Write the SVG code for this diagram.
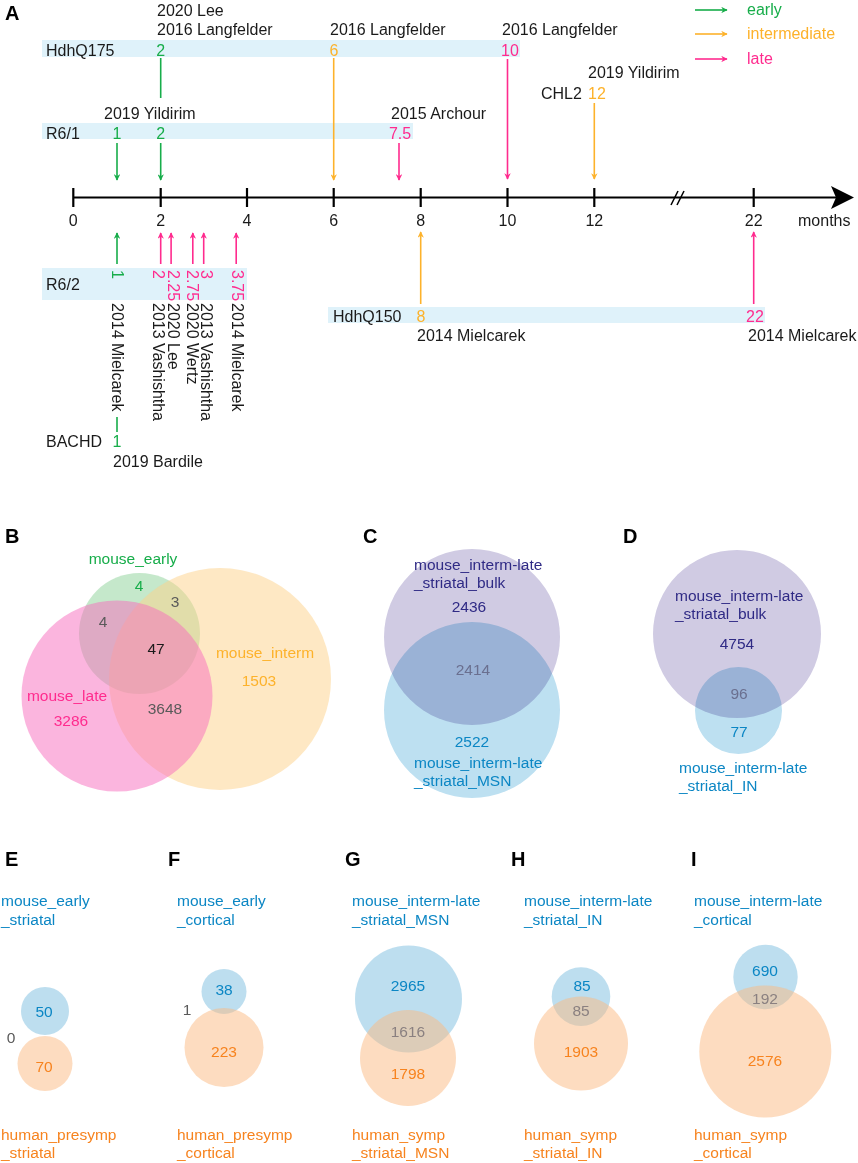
<svg xmlns="http://www.w3.org/2000/svg" width="858" height="1163" viewBox="0 0 858 1163">
<defs>
<style>
text{font-family:"Liberation Sans",Arial,Helvetica,sans-serif;font-size:16px;fill:#1a1a1a}
.L{font-weight:bold;font-size:20px;fill:#000}
.v{font-size:15.5px}
.m{text-anchor:middle}
.g{fill:#17ad4a}.o{fill:#fdb22b}.p{fill:#ff2b8e}
.gr{fill:#5a5a5a}
.pu{fill:#2f2a85}.bl{fill:#0b86c4}.or{fill:#f7831e}.ov{fill:#8a8080}.ovb{fill:#6a6f8f}
.band{fill:#dff2fa}
.ln{stroke-width:1.6;fill:none}
.sg{stroke:#17ad4a}.so{stroke:#fdb22b}.sp{stroke:#ff2b8e}
.ax{stroke:#000;stroke-width:2.2;fill:none}
.cg{fill:#8bd197;fill-opacity:.5}.cp{fill:#f86cbd;fill-opacity:.5}.co{fill:#fdd28a;fill-opacity:.5}
.cpu{fill:#d0cbe3;mix-blend-mode:multiply}.cbu{fill:#bde0f1;mix-blend-mode:multiply}
.cb{fill:#7bbde0;fill-opacity:.5}.cor{fill:#fbb982;fill-opacity:.5}
</style>
<marker id="ag" viewBox="0 0 10 10" refX="9" refY="5" markerWidth="4" markerHeight="4" orient="auto"><path d="M0,0 L10,5 L0,10 L3,5 z" fill="#17ad4a"/></marker>
<marker id="ao" viewBox="0 0 10 10" refX="9" refY="5" markerWidth="4" markerHeight="4" orient="auto"><path d="M0,0 L10,5 L0,10 L3,5 z" fill="#fdb22b"/></marker>
<marker id="ap" viewBox="0 0 10 10" refX="9" refY="5" markerWidth="4" markerHeight="4" orient="auto"><path d="M0,0 L10,5 L0,10 L3,5 z" fill="#ff2b8e"/></marker>
</defs>
<rect width="858" height="1163" fill="#fff"/>

<g id="panel-labels">
<text class="L" x="5" y="20">A</text>
<text class="L" x="5" y="543">B</text>
<text class="L" x="363" y="543">C</text>
<text class="L" x="623" y="543">D</text>
<text class="L" x="5" y="866">E</text>
<text class="L" x="168" y="866">F</text>
<text class="L" x="345" y="866">G</text>
<text class="L" x="511" y="866">H</text>
<text class="L" x="691" y="866">I</text>
</g>

<g id="legend">
<line class="ln sg" x1="695" y1="10" x2="727" y2="10" marker-end="url(#ag)"/>
<line class="ln so" x1="695" y1="34" x2="727" y2="34" marker-end="url(#ao)"/>
<line class="ln sp" x1="695" y1="59" x2="727" y2="59" marker-end="url(#ap)"/>
<text class="g" x="747" y="15">early</text>
<text class="o" x="747" y="39">intermediate</text>
<text class="p" x="747" y="64">late</text>
</g>

<g id="axis">
<line class="ax" x1="73.3" y1="197.5" x2="836" y2="197.5"/>
<polygon points="831,186 854,197.5 831,209 836,197.5" fill="#000"/>
<g class="ax" stroke-width="2">
<line x1="73.3" y1="188" x2="73.3" y2="207"/>
<line x1="160.7" y1="188" x2="160.7" y2="207"/>
<line x1="247" y1="188" x2="247" y2="207"/>
<line x1="333.7" y1="188" x2="333.7" y2="207"/>
<line x1="420.7" y1="188" x2="420.7" y2="207"/>
<line x1="507.5" y1="188" x2="507.5" y2="207"/>
<line x1="594.3" y1="188" x2="594.3" y2="207"/>
<line x1="753.7" y1="188" x2="753.7" y2="207"/>
</g>
<g stroke="#000" stroke-width="1.6">
<line x1="671" y1="205" x2="678" y2="191"/>
<line x1="677" y1="205" x2="684" y2="191"/>
</g>
<text class="m" x="73.3" y="226">0</text>
<text class="m" x="160.7" y="226">2</text>
<text class="m" x="247" y="226">4</text>
<text class="m" x="333.7" y="226">6</text>
<text class="m" x="420.7" y="226">8</text>
<text class="m" x="507.5" y="226">10</text>
<text class="m" x="594.3" y="226">12</text>
<text class="m" x="753.7" y="226">22</text>
<text x="798" y="226">months</text>
</g>

<g id="HdhQ175">
<rect class="band" x="42" y="40" width="478" height="17"/>
<text x="46" y="55.5">HdhQ175</text>
<text class="g m" x="160.7" y="55.5">2</text>
<text class="o m" x="334" y="55.5">6</text>
<text class="p m" x="510" y="55.5">10</text>
<text x="157" y="15.5">2020 Lee</text>
<text x="157" y="34.5">2016 Langfelder</text>
<text x="330" y="34.5">2016 Langfelder</text>
<text x="502" y="34.5">2016 Langfelder</text>
</g>

<g id="R6-1">
<rect class="band" x="42" y="123" width="371" height="16"/>
<text x="46" y="138.5">R6/1</text>
<text class="g m" x="117" y="138.5">1</text>
<text class="g m" x="160.7" y="138.5">2</text>
<text class="p m" x="400" y="138.5">7.5</text>
<text x="104" y="118.5">2019 Yildirim</text>
<text x="391" y="118.5">2015 Archour</text>
</g>

<g id="CHL2">
<text x="541" y="99">CHL2</text>
<text class="o" x="588" y="99">12</text>
<text x="588" y="77.5">2019 Yildirim</text>
</g>

<g id="R6-2">
<rect class="band" x="42" y="268" width="205" height="32"/>
<text x="46" y="290">R6/2</text>
<text class="g" transform="translate(111.5,270) rotate(90)">1</text>
<text class="p" transform="translate(153,270) rotate(90)">2</text>
<text class="p" transform="translate(167.5,270) rotate(90)">2.25</text>
<text class="p" transform="translate(187,270) rotate(90)">2.75</text>
<text class="p" transform="translate(200.5,270) rotate(90)">3</text>
<text class="p" transform="translate(232,270) rotate(90)">3.75</text>
<text transform="translate(111.5,303) rotate(90)">2014 Mielcarek</text>
<text transform="translate(153,303) rotate(90)">2013 Vashishtha</text>
<text transform="translate(167.5,303) rotate(90)">2020 Lee</text>
<text transform="translate(187,303) rotate(90)">2020 Wertz</text>
<text transform="translate(200.5,303) rotate(90)">2013 Vashishtha</text>
<text transform="translate(232,303) rotate(90)">2014 Mielcarek</text>
</g>

<g id="HdhQ150">
<rect class="band" x="328" y="307" width="437" height="16"/>
<text x="333" y="321.5">HdhQ150</text>
<text class="o m" x="421" y="321.5">8</text>
<text class="p m" x="755" y="321.5">22</text>
<text x="417" y="341">2014 Mielcarek</text>
<text x="748" y="341">2014 Mielcarek</text>
</g>

<g id="BACHD">
<text x="46" y="447">BACHD</text>
<text class="g m" x="117" y="447">1</text>
<text x="113" y="467">2019 Bardile</text>
</g>

<g id="connectors">
<line class="ln sg" x1="160.7" y1="58" x2="160.7" y2="98"/>
<line class="ln sg" x1="117" y1="143" x2="117" y2="180" marker-end="url(#ag)"/>
<line class="ln sg" x1="160.7" y1="143" x2="160.7" y2="180" marker-end="url(#ag)"/>
<line class="ln so" x1="333.7" y1="58" x2="333.7" y2="180" marker-end="url(#ao)"/>
<line class="ln sp" x1="399" y1="143" x2="399" y2="180" marker-end="url(#ap)"/>
<line class="ln sp" x1="507.5" y1="59" x2="507.5" y2="179" marker-end="url(#ap)"/>
<line class="ln so" x1="594.3" y1="103" x2="594.3" y2="179" marker-end="url(#ao)"/>
<line class="ln sg" x1="117" y1="264" x2="117" y2="233" marker-end="url(#ag)"/>
<line class="ln sp" x1="160.7" y1="264" x2="160.7" y2="233" marker-end="url(#ap)"/>
<line class="ln sp" x1="171.1" y1="264" x2="171.1" y2="233" marker-end="url(#ap)"/>
<line class="ln sp" x1="192.8" y1="264" x2="192.8" y2="233" marker-end="url(#ap)"/>
<line class="ln sp" x1="203.7" y1="264" x2="203.7" y2="233" marker-end="url(#ap)"/>
<line class="ln sp" x1="236.2" y1="264" x2="236.2" y2="233" marker-end="url(#ap)"/>
<line class="ln so" x1="420.7" y1="304" x2="420.7" y2="232" marker-end="url(#ao)"/>
<line class="ln sp" x1="753.7" y1="304" x2="753.7" y2="232" marker-end="url(#ap)"/>
<line class="ln sg" x1="117" y1="417" x2="117" y2="432"/>
</g>

<g id="venn-B">
<circle class="cg" cx="139.5" cy="633.5" r="60.5"/>
<circle class="co" cx="220" cy="679" r="111"/>
<circle class="cp" cx="117" cy="696" r="95.5"/>
<text class="v g m" x="133" y="564">mouse_early</text>
<text class="v g m" x="139" y="591">4</text>
<text class="v gr m" x="175" y="607">3</text>
<text class="v gr m" x="103" y="627">4</text>
<text class="v m" x="156" y="654" fill="#000">47</text>
<text class="v o m" x="265" y="658">mouse_interm</text>
<text class="v o m" x="259" y="686">1503</text>
<text class="v p m" x="67" y="701">mouse_late</text>
<text class="v p m" x="71" y="726">3286</text>
<text class="v gr m" x="165" y="714">3648</text>
</g>

<g id="venn-C">
<circle class="cpu" cx="472" cy="637" r="88"/>
<circle class="cbu" cx="472" cy="710" r="88"/>
<text class="v pu" x="414" y="570">mouse_interm-late</text>
<text class="v pu" x="414" y="588">_striatal_bulk</text>
<text class="v pu m" x="469" y="612">2436</text>
<text class="v ovb m" x="473" y="675">2414</text>
<text class="v bl m" x="472" y="747">2522</text>
<text class="v bl" x="414" y="768">mouse_interm-late</text>
<text class="v bl" x="414" y="786">_striatal_MSN</text>
</g>

<g id="venn-D">
<circle class="cpu" cx="737" cy="634" r="84"/>
<circle class="cbu" cx="738.5" cy="710.5" r="43.5"/>
<text class="v pu" x="675" y="601">mouse_interm-late</text>
<text class="v pu" x="675" y="619">_striatal_bulk</text>
<text class="v pu m" x="737" y="649">4754</text>
<text class="v ovb m" x="739" y="699">96</text>
<text class="v bl m" x="739" y="737">77</text>
<text class="v bl" x="679" y="773">mouse_interm-late</text>
<text class="v bl" x="679" y="791">_striatal_IN</text>
</g>

<g id="venn-E">
<circle class="cb" cx="45" cy="1011" r="24"/>
<circle class="cor" cx="45" cy="1063.5" r="27.5"/>
<text class="v bl" x="1" y="906">mouse_early</text>
<text class="v bl" x="1" y="925">_striatal</text>
<text class="v bl m" x="44" y="1017">50</text>
<text class="v or m" x="44" y="1072">70</text>
<text class="v gr m" x="11" y="1043">0</text>
<text class="v or" x="1" y="1140">human_presymp</text>
<text class="v or" x="1" y="1158">_striatal</text>
</g>

<g id="venn-F">
<circle class="cb" cx="224" cy="991.5" r="22.5"/>
<circle class="cor" cx="224" cy="1047.5" r="39.5"/>
<text class="v bl" x="177" y="906">mouse_early</text>
<text class="v bl" x="177" y="925">_cortical</text>
<text class="v bl m" x="224" y="995">38</text>
<text class="v or m" x="224" y="1057">223</text>
<text class="v gr m" x="187" y="1015">1</text>
<text class="v or" x="177" y="1140">human_presymp</text>
<text class="v or" x="177" y="1158">_cortical</text>
</g>

<g id="venn-G">
<circle class="cb" cx="408.5" cy="999" r="53.5"/>
<circle class="cor" cx="408" cy="1058" r="48"/>
<text class="v bl" x="352" y="906">mouse_interm-late</text>
<text class="v bl" x="352" y="925">_striatal_MSN</text>
<text class="v bl m" x="408" y="991">2965</text>
<text class="v ov m" x="408" y="1037">1616</text>
<text class="v or m" x="408" y="1079">1798</text>
<text class="v or" x="352" y="1140">human_symp</text>
<text class="v or" x="352" y="1158">_striatal_MSN</text>
</g>

<g id="venn-H">
<circle class="cb" cx="581" cy="996.6" r="29.3"/>
<circle class="cor" cx="581" cy="1043.5" r="47"/>
<text class="v bl" x="524" y="906">mouse_interm-late</text>
<text class="v bl" x="524" y="925">_striatal_IN</text>
<text class="v bl m" x="582" y="991">85</text>
<text class="v ov m" x="581" y="1016">85</text>
<text class="v or m" x="581" y="1057">1903</text>
<text class="v or" x="524" y="1140">human_symp</text>
<text class="v or" x="524" y="1158">_striatal_IN</text>
</g>

<g id="venn-I">
<circle class="cb" cx="765.5" cy="977" r="32.2"/>
<circle class="cor" cx="765.3" cy="1051.5" r="66"/>
<text class="v bl" x="694" y="906">mouse_interm-late</text>
<text class="v bl" x="694" y="925">_cortical</text>
<text class="v bl m" x="765" y="976">690</text>
<text class="v ov m" x="765" y="1004">192</text>
<text class="v or m" x="765" y="1066">2576</text>
<text class="v or" x="694" y="1140">human_symp</text>
<text class="v or" x="694" y="1158">_cortical</text>
</g>
</svg>
